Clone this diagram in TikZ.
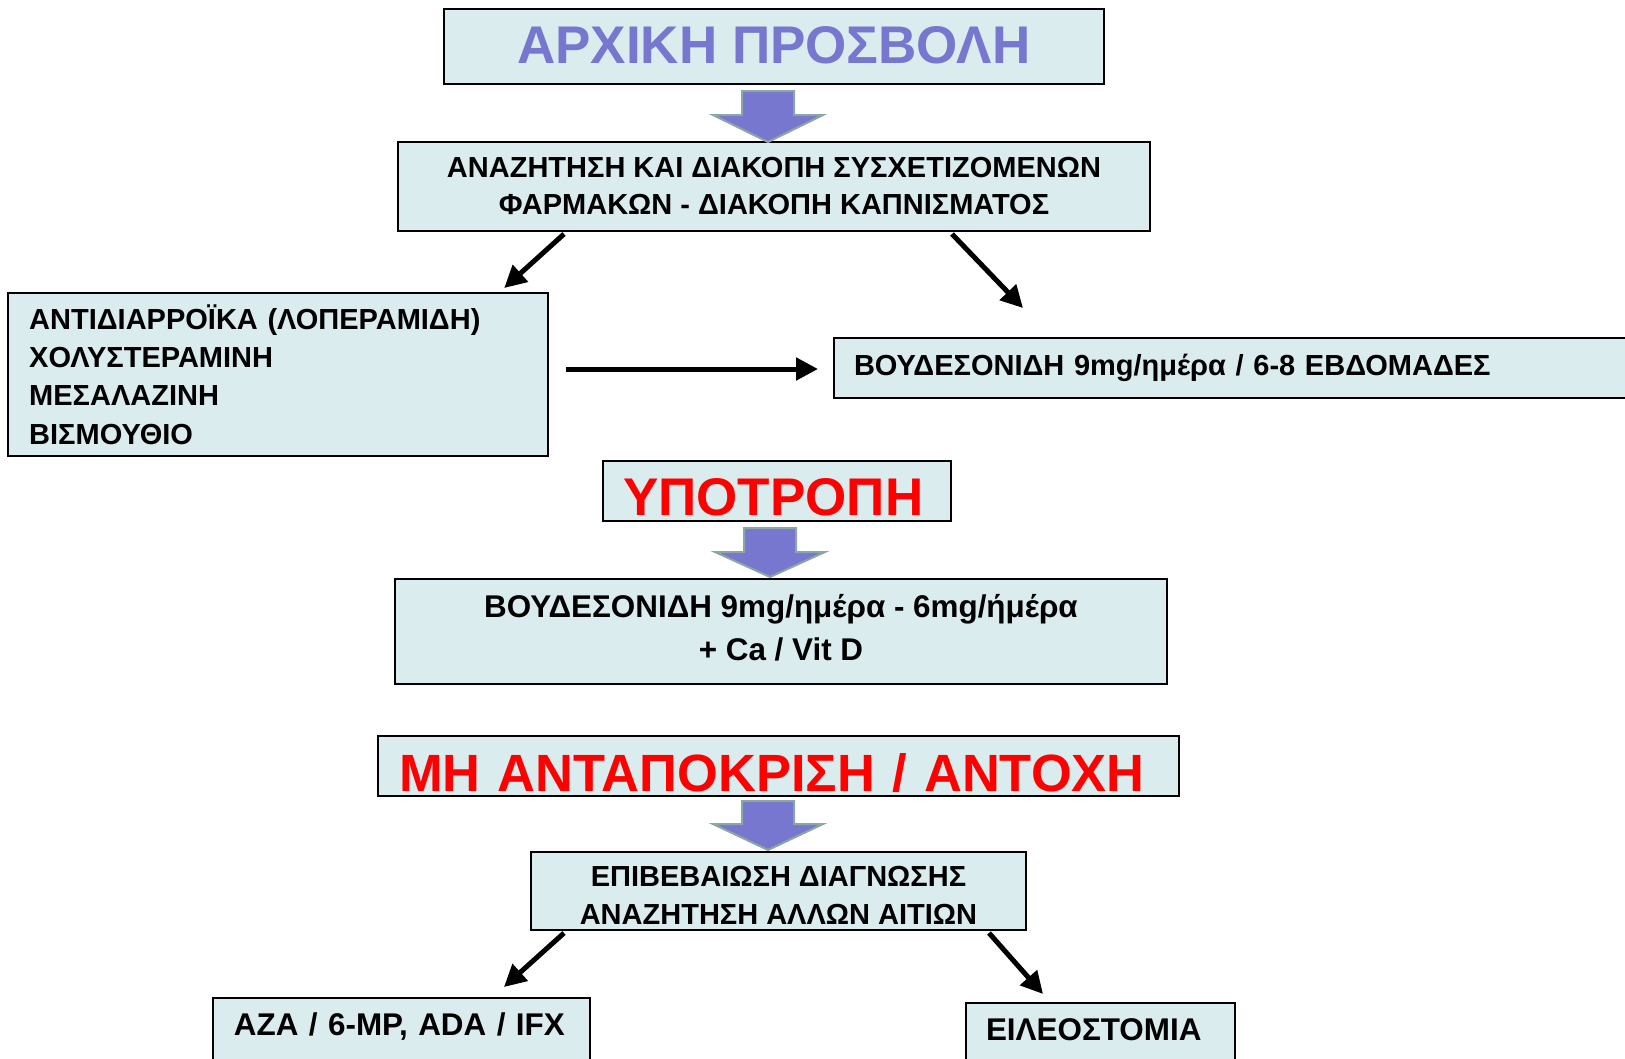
\documentclass[tikz,border=0pt]{standalone}
\usepackage{fontspec}
\setmainfont{Liberation Sans}
\usetikzlibrary{arrows.meta,calc}
\definecolor{boxfill}{RGB}{219,236,238}
\definecolor{bafill}{RGB}{119,119,208}
\definecolor{baline}{RGB}{140,165,165}
\definecolor{titleblue}{RGB}{119,119,208}
\definecolor{hred}{RGB}{255,0,0}
\newcommand\blockarr[4]{%
  \draw[blockarrow] (#1-26,#2) -- (#1+26,#2) -- (#1+26,#3) -- (#1+55,#3) -- (#1,#4) -- (#1-55,#3) -- (#1-26,#3) -- cycle;}
\begin{document}
\begin{tikzpicture}[x=1pt,y=-1pt,
  box/.style={draw=black, line width=2pt, fill=boxfill, inner sep=0pt, rectangle},
  bigtxt/.style={font=\fontsize{53}{60}\selectfont\bfseries},
  midtxt/.style={font=\fontsize{31.4}{43}\selectfont\bfseries},
  smalltxt/.style={font=\fontsize{29}{38}\selectfont\bfseries},
  conn/.style={line width=5pt, -{Triangle[length=22pt,width=22pt]}},
  blockarrow/.style={fill=bafill, draw=baline, line width=2pt, line join=miter}]
\path[use as bounding box, clip] (0,0) rectangle (1625,1058);
\fill[white] (0,0) rectangle (1625,1058);

\node[box, minimum width=660pt, minimum height=75pt, bigtxt, text=titleblue, text height=33.6pt, text depth=0pt] (b1) at (773.8,46.7) {ΑΡΧΙΚΗ ΠΡΟΣΒΟΛΗ};
\node[box, minimum width=752pt, minimum height=89pt, font=\fontsize{29}{37}\selectfont\bfseries, align=center] (b2) at (774,186.5) {ΑΝΑΖΗΤΗΣΗ ΚΑΙ ΔΙΑΚΟΠΗ ΣΥΣΧΕΤΙΖΟΜΕΝΩΝ\\ΦΑΡΜΑΚΩΝ - ΔΙΑΚΟΠΗ ΚΑΠΝΙΣΜΑΤΟΣ};
\node[box, minimum height=163pt, inner xsep=21pt, text width=498pt, align=left, font=\fontsize{29}{38.4}\selectfont\bfseries] (b3) at (278.2,374.5) {ΑΝΤΙΔΙΑΡΡΟΪΚΑ (ΛΟΠΕΡΑΜΙΔΗ)\\ΧΟΛΥΣΤΕΡΑΜΙΝΗ\\ΜΕΣΑΛΑΖΙΝΗ\\ΒΙΣΜΟΥΘΙΟ};
\node[box, minimum height=60pt, inner xsep=20pt, text width=766pt, align=left, smalltxt, text height=14.8pt, text depth=0pt] (b4) at (1237,368) {ΒΟΥΔΕΣΟΝΙΔΗ 9mg/ημέρα / 6-8 ΕΒΔΟΜΑΔΕΣ};
\node[box, minimum height=59.5pt, inner xsep=20pt, text width=308pt, align=left, bigtxt, text=hred, text height=47.6pt, text depth=0pt] (b5) at (777,491.2) {ΥΠΟΤΡΟΠΗ};
\node[box, minimum width=772pt, minimum height=105pt, midtxt, align=center, text height=57.4pt, text depth=0pt] (b6) at (781,631.5) {ΒΟΥΔΕΣΟΝΙΔΗ 9mg/ημέρα - 6mg/ήμέρα\\+ Ca / Vit D};
\node[box, minimum height=60pt, inner xsep=21pt, text width=759pt, align=left, font=\fontsize{52.4}{60}\selectfont\bfseries, text=hred, text height=50pt, text depth=0pt] (b7) at (778.5,766) {ΜΗ ΑΝΤΑΠΟΚΡΙΣΗ / ΑΝΤΟΧΗ};
\node[box, minimum width=495pt, minimum height=78pt, smalltxt, align=center, text height=66.8pt, text depth=0pt] (b8) at (778.5,891) {ΕΠΙΒΕΒΑΙΩΣΗ ΔΙΑΓΝΩΣΗΣ\\ΑΝΑΖΗΤΗΣΗ ΑΛΛΩΝ ΑΙΤΙΩΝ};
\node[box, minimum height=80pt, inner xsep=20.5pt, text width=335.5pt, align=left, midtxt, text height=0pt, text depth=5.5pt] (b9) at (401.7,1038) {AZA / 6-MP, ADA / IFX};
\node[box, minimum height=77pt, inner xsep=20pt, text width=229pt, align=left, midtxt, text height=0pt, text depth=2.5pt] (b10) at (1100.5,1041.5) {ΕΙΛΕΟΣΤΟΜΙΑ};

\blockarr{768}{91}{115}{142}
\blockarr{770}{528}{552}{577}
\blockarr{768}{801}{824}{850}

\draw[conn] ($(b2.south west)+(167,2)$) -- ($(b3.north west)+(497,-4)$);
\draw[conn] ($(b2.south west)+(555,2)$) -- ($(b4.north west)+(190,-29)$);
\draw[conn] ($(b3.east)+(17,-5.5)$) -- ($(b4.west)+(-15,1)$);
\draw[conn] ($(b8.south west)+(34,2)$) -- ($(b9.north west)+(291.5,-10)$);
\draw[conn] ($(b8.south west)+(459,2)$) -- ($(b10.north west)+(78,-8)$);
\end{tikzpicture}
\end{document}
